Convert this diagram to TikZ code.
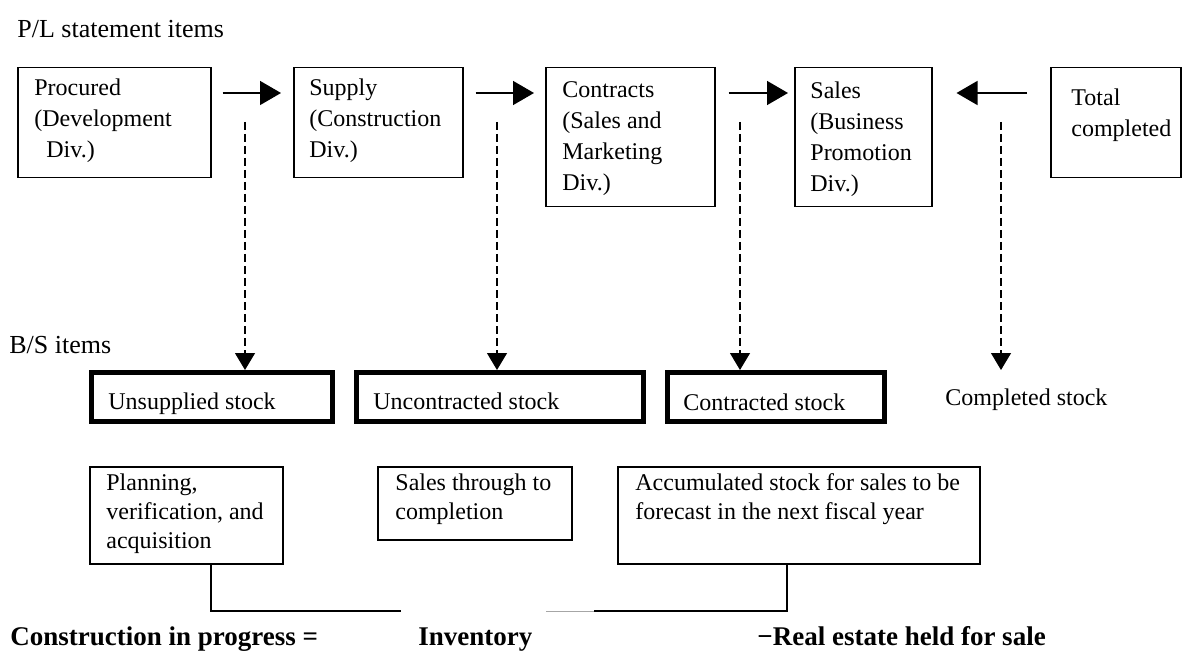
\documentclass[tikz,border=0pt]{standalone}
\usepackage{fontspec}
\setmainfont{Liberation Serif}
\usetikzlibrary{arrows.meta}
\tikzset{
    flow/diagram/.style={
        font=\fontsize{12}{15.5}\selectfont,
        x=0.5pt, y=-0.5pt,
        line join=miter
    },
    flow/item/.style={draw, line width=0.75pt, anchor=north west, inner sep=0pt},
    flow/stock/.style={draw, line width=2.25pt, anchor=north west, inner sep=0pt},
    flow/text/.style={anchor=north west, align=left, inner sep=0pt,
        execute at begin node=\strut},
    flow/note/.style={flow/text, font=\fontsize{12}{14.5}\selectfont},
    flow/heading/.style={anchor=base west, inner sep=0pt, font=\fontsize{13}{15}\selectfont},
    flow/sum/.style={anchor=base west, inner sep=0pt, font=\fontsize{13.5}{15}\selectfont\bfseries},
    flow/move/.style={line width=0.75pt, -{Triangle[length=10.5pt, width=12pt]}},
    flow/down/.style={line width=0.6pt, dash pattern=on 4pt off 2pt,
        -{Triangle[length=8.5pt, width=10pt]}},
    flow/link/.style={line width=0.75pt},
    flow/faint/.style={draw=black!35, line width=0.5pt}
}
\begin{document}
\begin{tikzpicture}[flow/diagram]
    \useasboundingbox (0,0) rectangle (1182,652);

    % P/L row
    \node[flow/heading] (plhead) at (17,38) {P/L statement items};
    \node[flow/item, minimum width=96.5pt, minimum height=55pt] (proc) at (17,67) {};
    \node[flow/item, minimum width=84.5pt, minimum height=55pt] (sup) at (293,67) {};
    \node[flow/item, minimum width=84.5pt, minimum height=69.5pt] (cont) at (545,67) {};
    \node[flow/item, minimum width=68.5pt, minimum height=69.5pt] (sales) at (794,67) {};
    \node[flow/item, minimum width=65pt, minimum height=55pt] (total) at (1050,67) {};
    \node[flow/text] (procT) at ([shift={(17,11)}]proc.north west)
        {Procured\\(Development\\\hspace*{6pt}Div.)};
    \node[flow/text] (supT) at ([shift={(16,11)}]sup.north west)
        {Supply\\(Construction\\Div.)};
    \node[flow/text] (contT) at ([shift={(17,14)}]cont.north west)
        {Contracts\\(Sales and\\Marketing\\Div.)};
    \node[flow/text] (salesT) at ([shift={(16,14)}]sales.north west)
        {Sales\\(Business\\Promotion\\Div.)};
    \node[flow/text] (totalT) at ([shift={(21,21)}]total.north west)
        {Total\\completed};

    \draw[flow/move] ([shift={(11,26)}]proc.north east) -- ([shift={(-12,26)}]sup.north west);
    \draw[flow/move] ([shift={(12,26)}]sup.north east) -- ([shift={(-11,26)}]cont.north west);
    \draw[flow/move] ([shift={(13,26)}]cont.north east) -- ([shift={(-6,26)}]sales.north west);
    \draw[flow/move] ([shift={(-23,26)}]total.north west) -- ([shift={(24,26)}]sales.north east);

    % B/S row
    \node[flow/heading] (bshead) at (9,353) {B/S items};
    \node[flow/stock, minimum width=120.5pt, minimum height=24.5pt] (unsup) at (89,370) {};
    \node[flow/stock, minimum width=143.5pt, minimum height=24.5pt] (uncon) at (354,370) {};
    \node[flow/stock, minimum width=108.5pt, minimum height=24.5pt] (con) at (665,370) {};
    \node[flow/text] (unsupT) at ([shift={(19,17)}]unsup.north west) {Unsupplied stock};
    \node[flow/text] (unconT) at ([shift={(19,17)}]uncon.north west) {Uncontracted stock};
    \node[flow/text] (conT) at ([shift={(18,18)}]con.north west) {Contracted stock};
    \node[anchor=base west, inner sep=0pt] (compl) at (945,405) {Completed stock};

    \coordinate (d1) at (245,122);
    \coordinate (d2) at (497,122);
    \coordinate (d3) at (740,122);
    \coordinate (d4) at (1001,122);
    \draw[flow/down] (d1) -- (d1 |- unsup.north);
    \draw[flow/down] (d2) -- (d2 |- uncon.north);
    \draw[flow/down] (d3) -- (d3 |- con.north);
    \draw[flow/down] (d4) -- (d4 |- con.north);

    % notes
    \node[flow/item, minimum width=96.5pt, minimum height=48.5pt] (plan) at (89,466) {};
    \node[flow/item, minimum width=97pt, minimum height=36.5pt] (thru) at (377,466) {};
    \node[flow/item, minimum width=181pt, minimum height=48.5pt] (accum) at (617,466) {};
    \node[flow/note] (planT) at ([shift={(17,7)}]plan.north west)
        {Planning,\\verification, and\\acquisition};
    \node[flow/note] (thruT) at ([shift={(18,7)}]thru.north west)
        {Sales through to\\completion};
    \node[flow/note] (accumT) at ([shift={(18,7)}]accum.north west)
        {Accumulated stock for sales to be\\forecast in the next fiscal year};

    \coordinate (jL) at (401,611);
    \coordinate (jG) at (546,611);
    \coordinate (jR) at (594,611);
    \draw[flow/link] ([shift={(24.5,0)}]plan.south) |- (jL);
    \draw[flow/faint] (jG) -- (jR);
    \draw[flow/link] (jR) -| ([shift={(-12,0)}]accum.south);

    \node[flow/sum] (cip) at (10,645) {Construction in progress =};
    \node[flow/sum] (inv) at (418,645) {Inventory};
    \node[flow/sum] (reh) at (757,645) {−Real estate held for sale};
\end{tikzpicture}
\end{document}
